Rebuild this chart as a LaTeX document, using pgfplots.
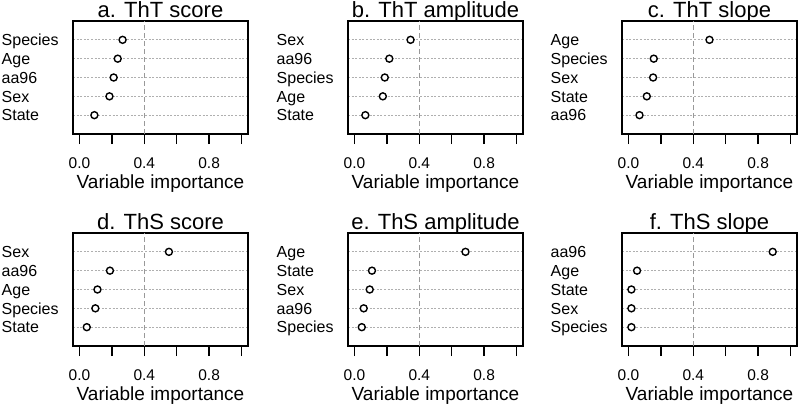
\documentclass[border=0pt]{standalone}
\usepackage{fontspec}
\setmainfont{Liberation Sans}
\usepackage{pgfplots}
\pgfplotsset{compat=1.18}
\definecolor{gridgray}{HTML}{AFAFAF}
\definecolor{refgray}{HTML}{999999}
\pgfplotsset{dotpanel/.style={
  scale only axis, width=175pt, height=113pt,
  xmin=-0.04, xmax=1.04, ymin=0, ymax=6,
  xtick={0,0.2,0.4,0.6,0.8,1.0},
  xticklabels={0.0,,0.4,,0.8,},
  ytick={1,2,3,4,5},
  tick align=outside,
  xtick pos=bottom,
  major tick length=10pt,
  axis line style={line width=1.5pt},
  xtick style={line width=1.4pt, black},
  ytick style={draw=none},
  ymajorgrids,
  grid style={gridgray, line width=1pt, dash pattern=on 2pt off 1.6pt},
  xticklabel style={font=\fontsize{15.5}{17}\selectfont, anchor=base, inner sep=0pt, yshift=-24.5pt},
  yticklabel style={font=\fontsize{16}{18}\selectfont, anchor=base west, inner sep=0pt, xshift=-61.5pt, yshift=-5.7pt},
  title style={font=\fontsize{22}{24}\selectfont, at={(0.5,1)}, anchor=base, yshift=-2.3pt, inner sep=0pt},
  xlabel style={font=\fontsize{19}{21}\selectfont, at={(0.5,0)}, anchor=base, yshift=-54pt, inner sep=0pt},
  xlabel={Variable importance},
  clip=false,
},
dotstyle/.style={only marks, mark=*, mark size=3.5pt, mark options={fill=white, draw=black, line width=1.4pt}},
refstyle/.style={refgray, line width=1.2pt, dash pattern=on 5pt off 3pt, forget plot}}
\begin{document}
\begin{tikzpicture}
\path[use as bounding box] (0,0) rectangle (800pt,-406pt);
% a
\begin{axis}[dotpanel, at={(73pt,-134pt)}, anchor=south west, title={a. ThT score},
  yticklabels={State,Sex,aa96,Age,Species}]
\addplot[refstyle] coordinates {(0.4,0) (0.4,6)};
\addplot[dotstyle] coordinates {(0.092,1) (0.185,2) (0.211,3) (0.236,4) (0.266,5)};
\end{axis}
% b
\begin{axis}[dotpanel, at={(348pt,-134pt)}, anchor=south west, title={b. ThT amplitude},
  yticklabels={State,Age,Species,aa96,Sex}]
\addplot[refstyle] coordinates {(0.4,0) (0.4,6)};
\addplot[dotstyle] coordinates {(0.067,1) (0.175,2) (0.187,3) (0.215,4) (0.346,5)};
\end{axis}
% c
\begin{axis}[dotpanel, at={(622pt,-134pt)}, anchor=south west, title={c. ThT slope},
  yticklabels={aa96,State,Sex,Species,Age}]
\addplot[refstyle] coordinates {(0.4,0) (0.4,6)};
\addplot[dotstyle] coordinates {(0.068,1) (0.113,2) (0.152,3) (0.156,4) (0.500,5)};
\end{axis}
% d
\begin{axis}[dotpanel, at={(73pt,-346pt)}, anchor=south west, title={d. ThS score},
  yticklabels={State,Species,Age,aa96,Sex}]
\addplot[refstyle] coordinates {(0.4,0) (0.4,6)};
\addplot[dotstyle] coordinates {(0.045,1) (0.098,2) (0.111,3) (0.188,4) (0.552,5)};
\end{axis}
% e
\begin{axis}[dotpanel, at={(348pt,-346pt)}, anchor=south west, title={e. ThS amplitude},
  yticklabels={Species,aa96,Sex,State,Age}]
\addplot[refstyle] coordinates {(0.4,0) (0.4,6)};
\addplot[dotstyle] coordinates {(0.045,1) (0.057,2) (0.094,3) (0.108,4) (0.685,5)};
\end{axis}
% f
\begin{axis}[dotpanel, at={(622pt,-346pt)}, anchor=south west, title={f. ThS slope},
  yticklabels={Species,Sex,State,Age,aa96}]
\addplot[refstyle] coordinates {(0.4,0) (0.4,6)};
\addplot[dotstyle] coordinates {(0.018,1) (0.018,2) (0.018,3) (0.053,4) (0.890,5)};
\end{axis}
\end{tikzpicture}
\end{document}
